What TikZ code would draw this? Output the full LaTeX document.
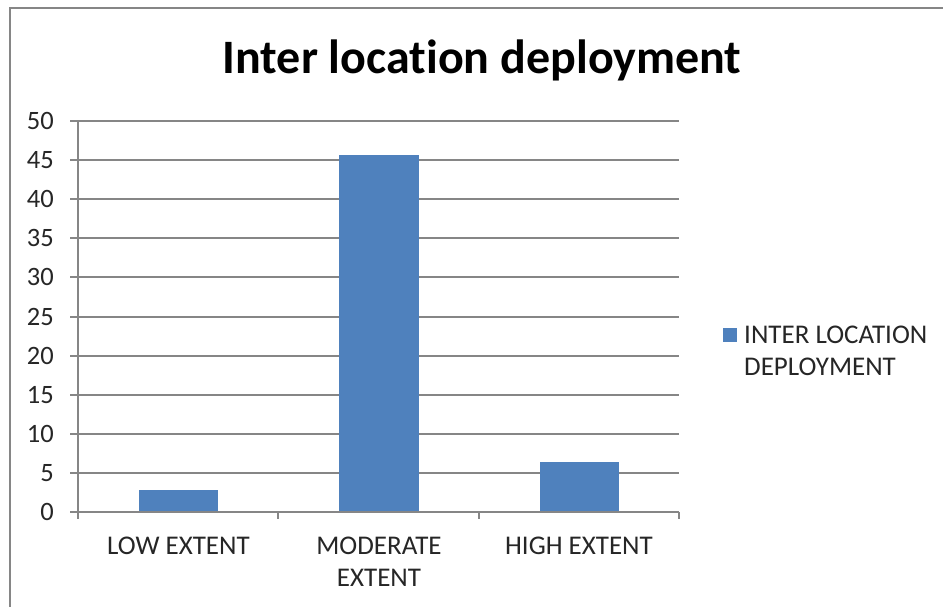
\documentclass[tikz,border=0pt]{standalone}
\usepackage{fontspec}
\setmainfont{Carlito}[Ligatures=NoCommon]
\definecolor{barblue}{HTML}{4F81BD}
\definecolor{gridgray}{HTML}{868686}
\definecolor{txt}{HTML}{262626}
\begin{document}
\begin{tikzpicture}[x=1pt,y=-1pt,
  grid/.style={draw=gridgray,line width=2pt},
  bar/.style={fill=barblue,draw=none},
  lab/.style={font=\fontsize{27}{32}\selectfont,text=txt,inner sep=0pt,anchor=base},
  ticklab/.style={font=\fontsize{26.5}{32}\selectfont,text=txt,inner sep=0pt,anchor=base east}]
\useasboundingbox (0,0) rectangle (943,607);
\fill[white] (0,0) rectangle (943,607);
% outer border
\draw[gridgray,line width=2pt] (10,620) -- (10,8) -- (960,8);
% title
\node[font=\fontsize{48}{56}\selectfont\bfseries,inner sep=0pt,anchor=base] (title) at (482,74) {Inter location deployment};
% gridlines and ticks
\foreach \v in {5,10,...,50}{
  \draw[grid] (70,{512-\v*7.82}) -- (679,{512-\v*7.82});
}
\foreach \v in {0,5,...,50}{
  \draw[grid] (70,{512-\v*7.82}) -- (78,{512-\v*7.82});
  \node[ticklab] (t\v) at (54,{512-\v*7.82+8.5}) {\v};
}
% bars
\fill[bar] (139,512) rectangle (218,{512-2.8*7.82});
\fill[bar] (339,512) rectangle (419,{512-45.65*7.82});
\fill[bar] (540,512) rectangle (619,{512-6.35*7.82});
% axes
\draw[grid] (78,121) -- (78,519);
\draw[grid] (78,512) -- (679,512);
\foreach \x in {78,278.3,478.7,679}{
  \draw[grid] (\x,512) -- (\x,519);
}
% category labels
\node[lab] (c1) at (178.5,554) {LOW EXTENT};
\node[lab] (c2a) at (379,554) {MODERATE};
\node[lab] (c2b) at (379,586) {EXTENT};
\node[lab] (c3) at (579,554) {HIGH EXTENT};
% legend
\fill[barblue] (723,328) rectangle (737,342);
\node[lab,anchor=base west] (leg1) at (744,343) {INTER LOCATION};
\node[lab,anchor=base west] (leg2) at (744,375) {DEPLOYMENT};
\end{tikzpicture}
\end{document}
